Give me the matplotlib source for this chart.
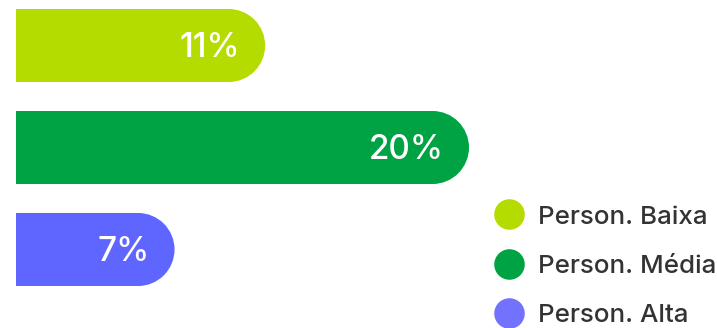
import matplotlib
matplotlib.use("Agg")
import matplotlib.pyplot as plt
from matplotlib.patches import Ellipse
from matplotlib.lines import Line2D

plt.rcParams["font.family"] = ["Inter", "DejaVu Sans"]

categories = ["Person. Baixa", "Person. Média", "Person. Alta"]
values = [11, 20, 7]
bar_colors = ["#b5dc00", "#00a344", "#5f66ff"]
legend_colors = ["#b5dc00", "#00a344", "#7272ff"]

PX_PER_UNIT = 22.65          # pixels per percentage point
BAR_H = 0.716                # bar thickness in category units
CAP_R = 36.5 / PX_PER_UNIT   # rounded cap radius, x units

fig = plt.figure(figsize=(7.17, 3.28), dpi=100)
ax = fig.add_axes([0, 0, 1, 1])
ax.set_xlim(-16 / PX_PER_UNIT, (717 - 16) / PX_PER_UNIT)
ax.set_ylim((328 - 45.5) / 102, -45.5 / 102)
ax.axis("off")

for i, (v, c) in enumerate(zip(values, bar_colors)):
    ax.barh(i, v - CAP_R, height=BAR_H, color=c, linewidth=0)
    ax.add_patch(Ellipse((v - CAP_R, i), 2 * CAP_R, BAR_H, color=c, linewidth=0))
    ax.text(v - 25 / PX_PER_UNIT, i + 0.02, f"{v}%", ha="right", va="center",
            color="white", fontsize=24, fontweight="medium")

handles = [Line2D([0], [0], marker="o", linestyle="none", markersize=22,
                  markerfacecolor=c, markeredgewidth=0, label=lab)
           for c, lab in zip(legend_colors, categories)]
ax.legend(handles=handles, loc="lower right", bbox_to_anchor=(1.017, -0.036),
          frameon=False, labelcolor="#333333",
          prop={"size": 18.7, "weight": "medium"},
          handlelength=1.0, handletextpad=0.6, labelspacing=1.0,
          borderaxespad=0.1)

fig.savefig("out.png", dpi=100)
